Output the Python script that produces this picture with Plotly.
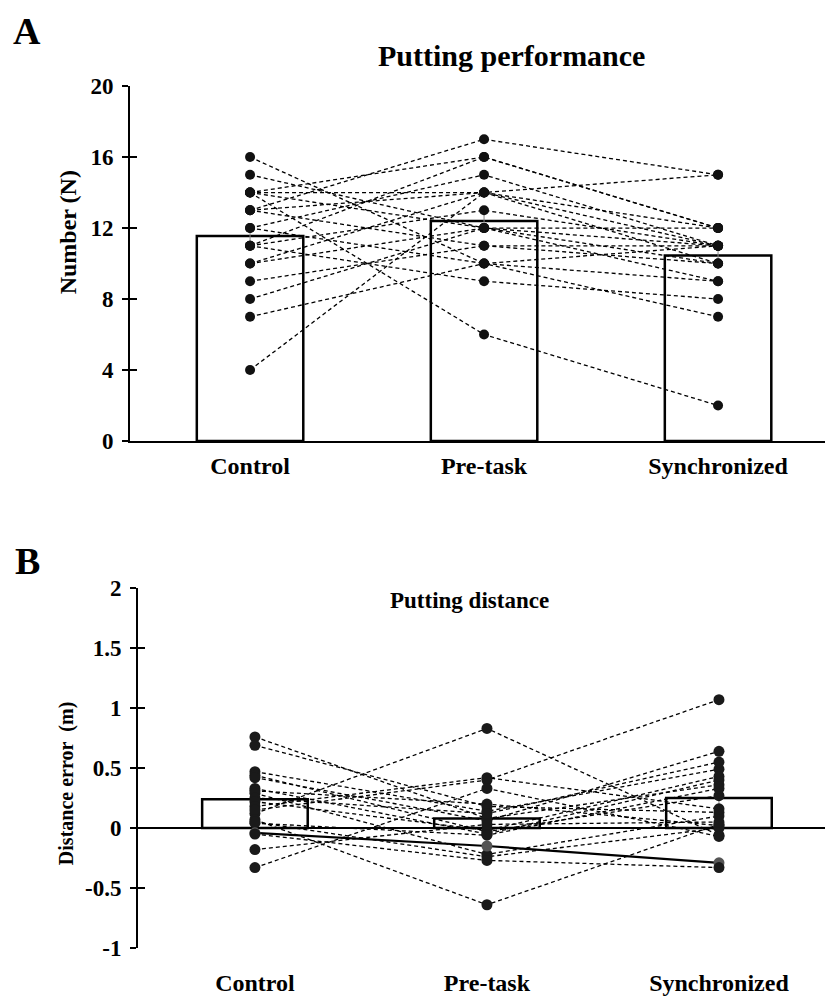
import plotly.graph_objects as go

categories = ["Control", "Pre-task", "Synchronized"]

# Panel A: putting performance (number of successful putts), per participant
perf_control = [16, 15, 14, 14, 14, 14, 13, 13, 13, 12, 12, 11, 11, 11, 10, 10, 9, 8, 7, 4]
perf_pretask = [10, 12, 6, 16, 14, 12, 17, 11, 14, 15, 10, 16, 13, 9, 14, 12, 11, 12, 10, 14]
perf_sync = [9, 11, 2, 12, 15, 10, 15, 10, 11, 11, 11, 12, 11, 8, 10, 12, 11, 9, 7, 12]
perf_means = [11.55, 12.4, 10.45]
perf_err = [0.65, 0.55, 0.55]
perf_tickvals = [0, 4, 8, 12, 16, 20]
perf_ticktext = ["0", "4", "8", "12", "16", "20"]

# Panel B: putting distance error (m), per participant
dist_control = [0.76, 0.69, 0.47, 0.44, 0.42, 0.33, 0.31, 0.29, 0.25, 0.22,
                0.18, 0.12, 0.15, 0.07, 0.04, 0.05, -0.04, -0.05, -0.18, -0.33]
dist_pretask = [0.08, 0.18, 0.14, -0.03, 0.06, -0.05, 0.20, -0.22, 0.12, -0.02,
                0.42, 0.83, 0.40, -0.64, -0.06, -0.24, -0.15, -0.27, 0.03, 0.33]
dist_sync = [0.36, 0.13, 0.49, 0.27, 0.64, 0.40, 0.02, 0.10, 0.55, 0.43,
             0.16, -0.06, 1.07, 0.03, 0.33, 0.00, -0.29, -0.33, 0.05, -0.07]
dist_means = [0.24, 0.08, 0.25]
dist_err = [0.06, 0.06, 0.07]
dist_tickvals = [-1, -0.5, 0, 0.5, 1, 1.5, 2]
dist_ticktext = ["-1", "-0.5", "0", "0.5", "1", "1.5", "2"]
solid_participant_b = 16

FONT = "Liberation Serif"
W, H = 825, 997

fig = go.Figure()

bar_style = dict(color="white", line=dict(color="black", width=2.5))
fig.add_trace(go.Bar(x=categories, y=perf_means, width=0.455, marker=bar_style,
                     error_y=dict(type="data", array=perf_err, color="#888", thickness=1, width=3),
                     xaxis="x", yaxis="y", showlegend=False))
fig.add_trace(go.Bar(x=categories, y=dist_means, width=0.455, marker=bar_style,
                     error_y=dict(type="data", array=dist_err, color="#888", thickness=1, width=3),
                     xaxis="x2", yaxis="y2", showlegend=False))

for a, b, c in zip(perf_control, perf_pretask, perf_sync):
    fig.add_trace(go.Scatter(x=categories, y=[a, b, c], mode="lines+markers",
                             line=dict(color="black", width=1.3, dash="4px,3px"),
                             marker=dict(color="#111", size=10),
                             xaxis="x", yaxis="y", showlegend=False))

for i, (a, b, c) in enumerate(zip(dist_control, dist_pretask, dist_sync)):
    solid = i == solid_participant_b
    fig.add_trace(go.Scatter(x=categories, y=[a, b, c], mode="lines+markers",
                             line=dict(color="black", width=2.2 if solid else 1.3,
                                       dash="solid" if solid else "4px,3px"),
                             marker=dict(color="#555" if solid else "#1a1a1a", size=11),
                             xaxis="x2", yaxis="y2", showlegend=False))

# invisible traces so the inner-tick overlay axes get drawn
fig.add_trace(go.Scatter(x=categories, y=perf_means, mode="markers", marker=dict(opacity=0),
                         xaxis="x", yaxis="y3", showlegend=False, hoverinfo="skip"))
fig.add_trace(go.Scatter(x=categories, y=dist_means, mode="markers", marker=dict(opacity=0),
                         xaxis="x2", yaxis="y4", showlegend=False, hoverinfo="skip"))

ax_font = dict(family=FONT, size=23, color="black", weight="bold")
cat_font = dict(family=FONT, size=24, color="black", weight="bold")

dA = [130 / W, 1.0]
dB = [138 / W, 1.0]
yA = [1 - 440 / H, 1 - 76 / H]
yB = [1 - 960 / H, 1 - 591 / H]

tick_common = dict(tickwidth=2, tickcolor="black", showgrid=False)

fig.update_layout(
    width=W, height=H, margin=dict(l=0, r=0, t=0, b=0),
    paper_bgcolor="white", plot_bgcolor="white",
    barmode="overlay",
    xaxis=dict(domain=dA, range=[-0.513, 2.457], anchor="y", showline=True, linecolor="black",
               linewidth=2, ticks="outside", ticklen=2, tickcolor="rgba(0,0,0,0)",
               tickfont=cat_font, showgrid=False, zeroline=False),
    yaxis=dict(domain=yA, range=[0, 20], anchor="x", showline=True, linecolor="black", linewidth=2,
               ticks="outside", ticklen=6, tickvals=perf_tickvals, ticktext=perf_ticktext,
               tickfont=ax_font, zeroline=False, ticklabelstandoff=4, **tick_common),
    yaxis3=dict(range=[0, 20], anchor="x", overlaying="y", side="left",
                ticks="inside", ticklen=7, tickvals=perf_tickvals,
                showticklabels=False, zeroline=False, showline=False, **tick_common),
    xaxis2=dict(domain=dB, range=[-0.504, 2.457], anchor="y2", showline=False,
                ticks="outside", ticklen=13, tickcolor="rgba(0,0,0,0)",
                tickfont=cat_font, showgrid=False, zeroline=False),
    yaxis2=dict(domain=yB, range=[-1, 2], anchor="x2", showline=True, linecolor="black", linewidth=2,
                ticks="outside", ticklen=6, tickvals=dist_tickvals, ticktext=dist_ticktext,
                tickfont=ax_font, zeroline=True, zerolinecolor="black",
                zerolinewidth=2, ticklabelstandoff=4, **tick_common),
    yaxis4=dict(range=[-1, 2], anchor="x2", overlaying="y2", side="left",
                ticks="inside", ticklen=7, tickvals=dist_tickvals,
                showticklabels=False, zeroline=False, showline=False, **tick_common),
    annotations=[
        dict(text="<b>A</b>", x=27 / W, y=1 - 19 / H, xanchor="center", yanchor="middle",
             xref="paper", yref="paper", showarrow=False,
             font=dict(family=FONT, size=38, color="black")),
        dict(text="<b>B</b>", x=27 / W, y=1 - 563 / H, xanchor="center", yanchor="middle",
             xref="paper", yref="paper", showarrow=False,
             font=dict(family=FONT, size=38, color="black")),
        dict(text="<b>Putting performance</b>", x=511 / W, y=1 - 45 / H, xanchor="center",
             yanchor="middle", xref="paper", yref="paper",
             showarrow=False, font=dict(family=FONT, size=30, color="black")),
        dict(text="<b>Putting distance</b>", x=469 / W, y=1 - 604 / H, xanchor="center",
             yanchor="middle", xref="paper", yref="paper",
             showarrow=False, font=dict(family=FONT, size=23, color="black")),
        dict(text="<b>Number (N)</b>", x=68 / W, y=1 - 226 / H, xanchor="center", yanchor="middle",
             xref="paper", yref="paper",
             showarrow=False, textangle=-90, font=dict(family=FONT, size=24, color="black")),
        dict(text="<b>Distance error\u00a0 (m)</b>", x=66 / W, y=1 - 792 / H, xanchor="center",
             yanchor="middle", xref="paper", yref="paper",
             showarrow=False, textangle=-90, font=dict(family=FONT, size=20, color="black")),
    ],
)

fig.write_html("out.html")
